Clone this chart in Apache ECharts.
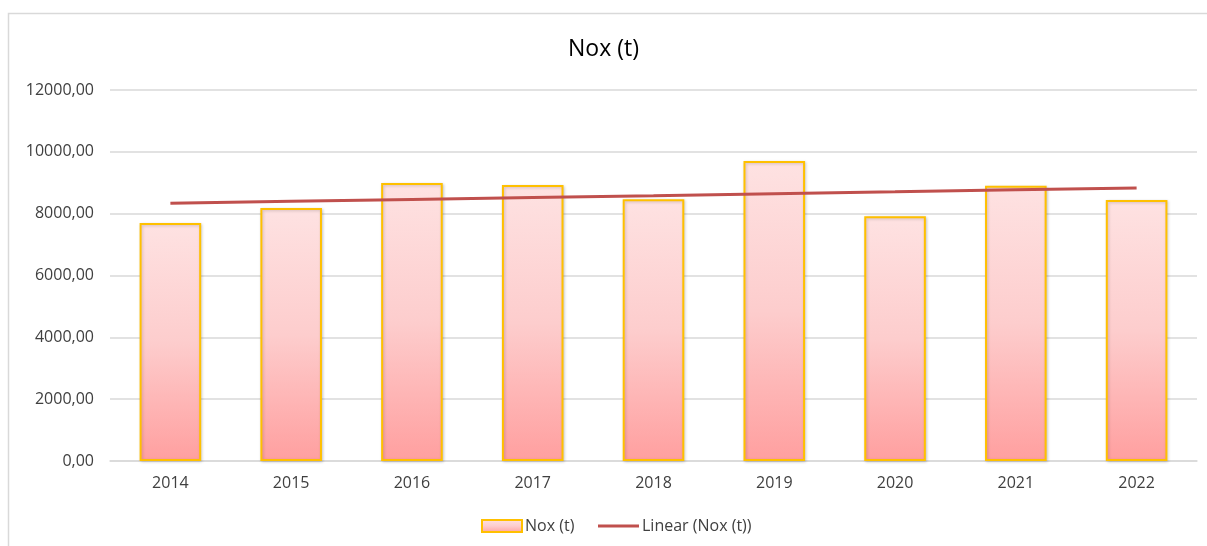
<!DOCTYPE html>
<html>
<head>
<meta charset="utf-8">
<script src="https://cdn.jsdelivr.net/npm/echarts@6/dist/echarts.min.js"></script>
<style>
  html, body { margin: 0; padding: 0; background: #fff; }
  #chart { width: 1207px; height: 546px; }
</style>
</head>
<body>
<div id="chart"></div>
<script>
// Nox emissions per year
var years = ['2014', '2015', '2016', '2017', '2018', '2019', '2020', '2021', '2022'];
var noxValues = [7700, 8180, 8990, 8930, 8470, 9700, 7920, 8900, 8440];
// linear trend line, read at each year
var trendValues = [8340, 8400, 8460, 8520, 8580, 8645, 8705, 8770, 8830];

var labelFont = '"Open Sans", "Noto Sans", sans-serif';

var myChart = echarts.init(document.getElementById('chart'), null, { renderer: 'canvas' });

var option = {
    animation: false,
    backgroundColor: '#fff',
    graphic: [{
        type: 'rect',
        shape: { x: 8.5, y: 13.5, width: 1210, height: 560 },
        style: { fill: 'none', stroke: '#d9d9d9', lineWidth: 1.5 },
        silent: true
    }],
    title: {
        text: 'Nox (t)',
        left: 'center',
        top: 33,
        textStyle: { fontFamily: labelFont, fontSize: 23, fontWeight: 'normal', color: '#000' }
    },
    // two legends so the trend icon is a plain line
    legend: [{
        top: 518,
        left: 481,
        padding: 0,
        itemWidth: 40,
        itemHeight: 12,
        textStyle: { fontFamily: labelFont, fontSize: 16, color: '#404040', padding: [0, 0, 0, -2] },
        data: [{ name: 'Nox (t)', icon: 'rect' }]
    }, {
        top: 518,
        left: 598,
        padding: 0,
        itemWidth: 41,
        itemHeight: 3,
        textStyle: { fontFamily: labelFont, fontSize: 16, color: '#404040', padding: [0, 0, 0, -2] },
        data: [{ name: 'Linear (Nox (t))', icon: 'rect' }]
    }],
    grid: { left: 110, right: 10, top: 90, bottom: 85, containLabel: false },
    xAxis: {
        type: 'category',
        data: years,
        axisLine: { show: true, lineStyle: { color: '#d9d9d9', width: 1.5 } },
        axisTick: { show: false },
        axisLabel: { fontFamily: labelFont, fontSize: 16, color: '#404040', margin: 14 }
    },
    yAxis: {
        type: 'value',
        min: 0,
        max: 12000,
        interval: 2000,
        axisLine: { show: false },
        axisTick: { show: false },
        splitLine: { lineStyle: { color: '#d9d9d9', width: 1.5 } },
        axisLabel: {
            fontFamily: labelFont, fontSize: 16, color: '#404040', margin: 16,
            formatter: function (v) { return v.toFixed(2).replace('.', ','); }
        }
    },
    series: [{
        name: 'Nox (t)',
        type: 'bar',
        barWidth: '51%',
        data: noxValues,
        itemStyle: {
            borderColor: '#ffc000',
            borderWidth: 2,
            shadowColor: 'rgba(0,0,0,0.18)',
            shadowBlur: 3,
            shadowOffsetX: 1,
            shadowOffsetY: 1,
            color: new echarts.graphic.LinearGradient(0, 0, 0, 1, [
                { offset: 0, color: '#fee2e2' },
                { offset: 0.5, color: '#fdcdcd' },
                { offset: 1, color: '#ff9f9f' }
            ])
        }
    }, {
        name: 'Linear (Nox (t))',
        type: 'line',
        data: trendValues,
        symbol: 'none',
        z: 5,
        lineStyle: { color: '#c0504d', width: 3 },
        itemStyle: { color: '#c0504d' }
    }]
};

myChart.setOption(option);
</script>
</body>
</html>
